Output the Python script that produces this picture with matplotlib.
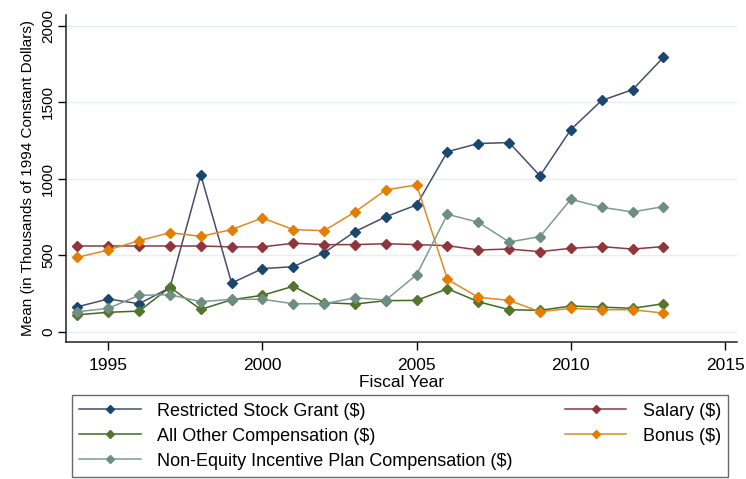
import numpy as np
import matplotlib
matplotlib.use('Agg')
import matplotlib.pyplot as plt

plt.rcParams['font.family'] = ['Liberation Sans', 'DejaVu Sans']

# data (thousands of 1994 dollars)
years = np.arange(1994, 2014)
restricted = [165, 216, 185, 290, 1026, 320, 414, 427, 518, 656,
              753, 830, 1178, 1231, 1237, 1020, 1322, 1512, 1582, 1793]
salary = [562, 562, 562, 562, 562, 556, 556, 580, 571, 571,
          577, 571, 564, 536, 542, 525, 547, 558, 542, 558]
other = [113, 129, 137, 292, 148, 211, 240, 299, 192, 183,
         205, 207, 283, 198, 146, 142, 170, 163, 155, 185]
bonus = [488, 536, 597, 649, 625, 669, 745, 669, 662, 784,
         928, 961, 344, 227, 207, 133, 155, 146, 146, 124]
nonequity = [133, 155, 240, 244, 198, 214, 214, 185, 185, 224,
             209, 375, 769, 717, 588, 623, 867, 815, 784, 819]

labels = ['Restricted Stock Grant ($)', 'Salary ($)', 'All Other Compensation ($)',
          'Bonus ($)', 'Non-Equity Incentive Plan Compensation ($)']
series = [restricted, salary, other, bonus, nonequity]
markcol = ['#1a476f', '#90353b', '#55752f', '#e37e00', '#6e8e84']
linecol = ['#474d6e', '#8a3a40', '#3e6b1e', '#e08a20', '#7f9a92']

fig = plt.figure(figsize=(7.46, 4.79), dpi=100)
ax = fig.add_axes([0.0885, 0.2866, 0.8995, 0.6821])

handles = []
for s, lab, mc, lc in zip(series, labels, markcol, linecol):
    h, = ax.plot(years, s, color=lc, lw=1.1, marker='D', markersize=5,
                 markerfacecolor=mc, markeredgecolor=mc, label=lab)
    handles.append(h)

ax.set_xlim(1993.63, 2015.39)
ax.set_ylim(-63, 2070)
ax.set_xticks([1995, 2000, 2005, 2010, 2015])
ax.set_yticks([0, 500, 1000, 1500, 2000])
ax.set_yticklabels(['0', '500', '1000', '1500', '2000'], rotation=90, va='center')
ax.tick_params(axis='x', labelsize=12.5, length=6, width=1, pad=6)
ax.tick_params(axis='y', labelsize=11, length=6, width=1, pad=2)
ax.grid(axis='y', color='#e6eef2', lw=1)
ax.set_axisbelow(True)
for sp in ['top', 'right']:
    ax.spines[sp].set_visible(False)
for sp in ['left', 'bottom']:
    ax.spines[sp].set_linewidth(1.1)
    ax.spines[sp].set_color('#222222')

ax.set_xlabel('Fiscal Year', fontsize=12.5, labelpad=1)
ax.set_ylabel('Mean (in Thousands of 1994 Constant Dollars)', fontsize=11, labelpad=4)

# stata fills the legend row by row, matplotlib column by column
order = [0, 2, 4, 1, 3]
leg = fig.legend([handles[i] for i in order], [labels[i] for i in order],
                 ncol=2, mode='expand', loc='lower left', borderaxespad=0,
                 bbox_to_anchor=(72 / 746, 2 / 479, 656 / 746, 78 / 479),
                 fontsize=13, frameon=True, fancybox=False, edgecolor='#444444',
                 handlelength=3.4, handletextpad=0.9, labelspacing=0.45,
                 borderpad=0.4, markerscale=0.75)
leg.get_frame().set_linewidth(1.0)

plt.savefig('out.png', dpi=100)
plt.close()
